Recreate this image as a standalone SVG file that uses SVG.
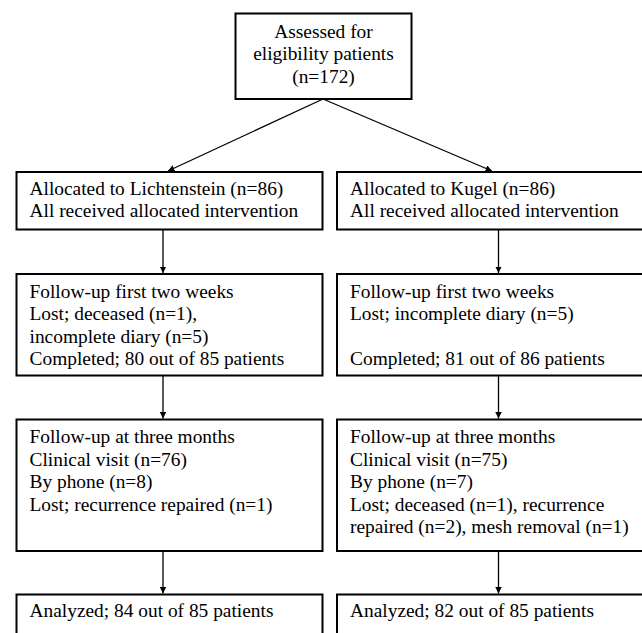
<svg xmlns="http://www.w3.org/2000/svg" width="642" height="633" viewBox="0 0 642 633">
<style>
.box{fill:#fff;stroke:#000;stroke-width:2}
.t{font-family:"Liberation Serif",serif;font-size:19.4px;fill:#000}
.c{text-anchor:middle}
.ln{stroke:#000;stroke-width:1.3;fill:none}
</style>
<defs>
<marker id="ah" viewBox="0 0 10 10" refX="10" refY="5" markerWidth="6.5" markerHeight="6.5" markerUnits="userSpaceOnUse" orient="auto">
<path d="M0,0 L10,5 L0,10 z" fill="#000"/>
</marker>
</defs>
<rect width="642" height="633" fill="#fff"/>
<g id="connectors">
<line class="ln" x1="323" y1="99" x2="168" y2="171" marker-end="url(#ah)"/>
<line class="ln" x1="323" y1="99" x2="492" y2="171" marker-end="url(#ah)"/>
<line class="ln" x1="163" y1="230" x2="163" y2="273" marker-end="url(#ah)"/>
<line class="ln" x1="498.5" y1="230" x2="498.5" y2="273" marker-end="url(#ah)"/>
<line class="ln" x1="163" y1="376" x2="163" y2="418.5" marker-end="url(#ah)"/>
<line class="ln" x1="498.5" y1="376" x2="498.5" y2="418.5" marker-end="url(#ah)"/>
<line class="ln" x1="163" y1="551.5" x2="163" y2="593.5" marker-end="url(#ah)"/>
<line class="ln" x1="498.5" y1="551.5" x2="498.5" y2="593.5" marker-end="url(#ah)"/>
</g>
<g class="t">
<g id="assessed">
<rect class="box" x="235.5" y="13.5" width="176" height="85.5"/>
<text class="c" x="323.5" y="37.5">Assessed for</text>
<text class="c" x="323.5" y="60">eligibility patients</text>
<text class="c" x="323.5" y="82.5">(n=172)</text>
</g>
<g id="alloc-lichtenstein">
<rect class="box" x="16.5" y="172" width="306" height="57.5"/>
<text x="29.5" y="195">Allocated to Lichtenstein (n=86)</text>
<text x="29.5" y="217">All received allocated intervention</text>
</g>
<g id="alloc-kugel">
<rect class="box" x="337" y="172" width="310" height="57.5"/>
<text x="350" y="195">Allocated to Kugel (n=86)</text>
<text x="350" y="217">All received allocated intervention</text>
</g>
<g id="fu2w-lichtenstein">
<rect class="box" x="16.5" y="274" width="306" height="101.5"/>
<text x="29.5" y="297.5">Follow-up first two weeks</text>
<text x="29.5" y="320">Lost; deceased (n=1),</text>
<text x="29.5" y="342.5">incomplete diary (n=5)</text>
<text x="29.5" y="365">Completed; 80 out of 85 patients</text>
</g>
<g id="fu2w-kugel">
<rect class="box" x="337" y="274" width="310" height="101.5"/>
<text x="350" y="297.5">Follow-up first two weeks</text>
<text x="350" y="320">Lost; incomplete diary (n=5)</text>
<text x="350" y="365">Completed; 81 out of 86 patients</text>
</g>
<g id="fu3m-lichtenstein">
<rect class="box" x="16.5" y="419.5" width="306" height="131.5"/>
<text x="29.5" y="443">Follow-up at three months</text>
<text x="29.5" y="465.5">Clinical visit (n=76)</text>
<text x="29.5" y="488">By phone (n=8)</text>
<text x="29.5" y="510.5">Lost; recurrence repaired (n=1)</text>
</g>
<g id="fu3m-kugel">
<rect class="box" x="337" y="419.5" width="310" height="131.5"/>
<text x="350" y="443">Follow-up at three months</text>
<text x="350" y="465.5">Clinical visit (n=75)</text>
<text x="350" y="488">By phone (n=7)</text>
<text x="350" y="510.5">Lost; deceased (n=1), recurrence</text>
<text x="350" y="533">repaired (n=2), mesh removal (n=1)</text>
</g>
<g id="analyzed-lichtenstein">
<rect class="box" x="16.5" y="594.5" width="306" height="50"/>
<text x="29.5" y="616.5">Analyzed; 84 out of 85 patients</text>
</g>
<g id="analyzed-kugel">
<rect class="box" x="337" y="594.5" width="310" height="50"/>
<text x="350" y="616.5">Analyzed; 82 out of 85 patients</text>
</g>
</g>
</svg>
